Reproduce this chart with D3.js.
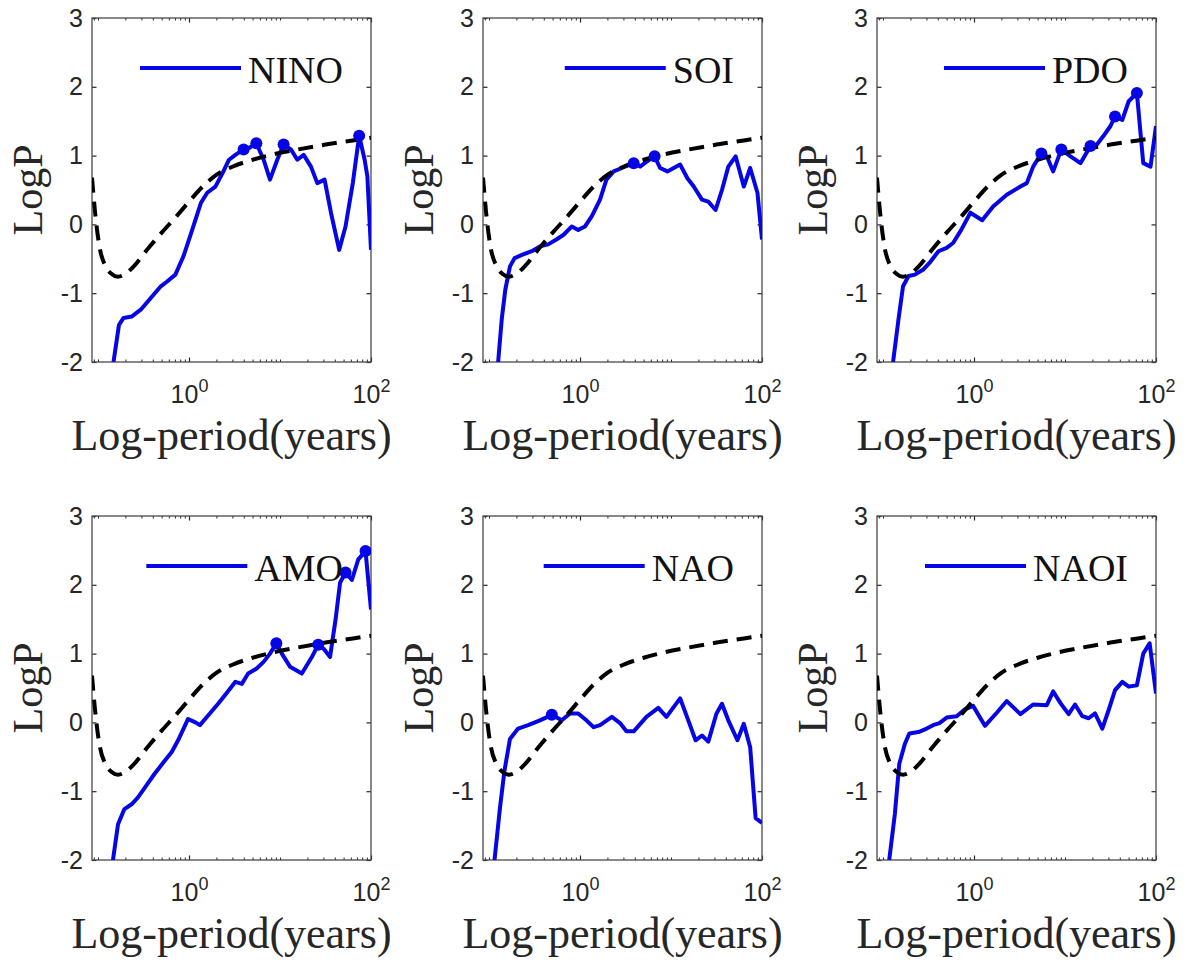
<!DOCTYPE html>
<html><head><meta charset="utf-8">
<script src="https://cdn.jsdelivr.net/npm/d3@7"></script>
<style>body{margin:0;background:#fff} svg{display:block}</style>
</head><body>
<svg id="chart" width="1187" height="965"></svg>
<script>
// ---------------- data ----------------
const panelNames = ["NINO", "SOI", "PDO", "AMO", "NAO", "NAOI"];

const ninoPeriod = [0.148,0.170,0.191,0.234,0.295,0.380,0.490,0.575,0.708,0.871,1.084,1.349,1.585,1.950,2.344,2.754,3.236,3.981,4.571,5.495,6.607,7.762,9.333,10.96,13.18,15.49,18.20,21.88,25.70,30.90,36.31,44.67,52.48,63.10,74.13,85.11,91.20,100];
const ninoLogP   = [-2.0,-1.46,-1.36,-1.34,-1.24,-1.07,-0.90,-0.83,-0.73,-0.46,-0.08,0.31,0.46,0.55,0.75,0.94,1.01,1.09,1.11,1.18,0.94,0.65,0.94,1.16,1.09,0.94,1.01,0.84,0.60,0.65,0.17,-0.37,-0.03,0.60,1.29,0.94,0.70,-0.37];
const ninoPeaks  = [17,19,23,34];

const soiPeriod = [0.126,0.138,0.151,0.170,0.191,0.234,0.295,0.363,0.447,0.550,0.661,0.813,0.955,1.135,1.349,1.660,1.950,2.344,2.884,3.890,4.571,5.495,6.607,7.586,9.120,10.72,12.59,15.14,17.78,21.88,25.70,30.90,36.31,42.66,51.29,63.10,74.13,89.13,100];
const soiLogP   = [-2.0,-1.38,-0.95,-0.61,-0.49,-0.44,-0.39,-0.32,-0.29,-0.22,-0.15,-0.03,-0.08,-0.03,0.12,0.36,0.65,0.77,0.82,0.89,0.84,0.92,0.99,0.82,0.77,0.82,0.87,0.67,0.55,0.36,0.33,0.21,0.50,0.84,0.99,0.55,0.82,0.46,-0.22];
const soiPeaks  = [19,22];

const pdoPeriod = [0.129,0.148,0.166,0.191,0.224,0.275,0.324,0.407,0.501,0.589,0.724,0.912,1.230,1.622,2.291,3.236,3.802,4.467,5.495,6.310,7.413,9.120,11.48,14.79,19.05,22.39,26.30,31.62,35.48,42.66,50.12,61.66,72.44,87.10,100];
const pdoLogP   = [-2.0,-1.38,-0.90,-0.75,-0.73,-0.66,-0.56,-0.39,-0.34,-0.27,-0.08,0.17,0.06,0.26,0.43,0.55,0.60,0.84,1.03,0.99,0.77,1.09,0.99,0.89,1.14,1.16,1.28,1.43,1.57,1.52,1.79,1.91,0.89,0.84,1.43];
const pdoPeaks  = [18,21,24,28,31];

const amoPeriod = [0.146,0.166,0.195,0.234,0.275,0.339,0.417,0.525,0.646,0.759,0.871,0.977,1.175,1.318,1.622,2.089,2.570,3.236,3.802,4.467,5.495,6.607,7.762,9.120,10.47,12.88,17.38,22.39,26.30,30.20,35.48,40.74,45.71,52.48,61.66,72.44,87.10,100];
const amoLogP   = [-2.0,-1.48,-1.26,-1.19,-1.09,-0.92,-0.75,-0.58,-0.43,-0.26,-0.09,0.05,0.00,-0.04,0.10,0.27,0.42,0.59,0.56,0.71,0.78,0.88,1.00,1.15,1.00,0.81,0.71,0.95,1.13,1.07,0.95,1.49,2.03,2.18,2.07,2.37,2.49,1.64];
const amoPeaks  = [23,28,33,36];

const naoPeriod = [0.115,0.132,0.148,0.170,0.209,0.269,0.363,0.490,0.631,0.776,0.955,1.175,1.413,1.660,2.239,2.754,3.236,3.890,5.370,7.244,8.913,12.59,15.49,18.62,21.88,25.70,31.62,36.31,42.66,53.70,63.10,74.13,85.11,100];
const naoLogP   = [-2.0,-1.24,-0.70,-0.24,-0.09,-0.04,0.03,0.11,0.03,0.13,0.13,0.03,-0.07,-0.04,0.08,-0.01,-0.13,-0.13,0.08,0.21,0.08,0.35,0.03,-0.26,-0.19,-0.28,0.13,0.27,0.03,-0.26,-0.02,-0.36,-1.39,-1.46];
const naoPeaks  = [7];

const naoiPeriod = [0.117,0.135,0.151,0.174,0.195,0.245,0.302,0.355,0.417,0.501,0.646,0.794,0.977,1.318,1.778,2.291,3.236,4.467,6.310,7.413,8.913,10.96,12.88,15.49,18.20,21.38,25.70,30.20,35.48,42.66,50.12,61.66,72.44,85.11,100];
const naoiLogP   = [-2.0,-1.33,-0.60,-0.31,-0.16,-0.14,-0.09,-0.04,-0.01,0.07,0.09,0.19,0.24,-0.05,0.14,0.31,0.12,0.26,0.25,0.45,0.28,0.12,0.26,0.09,0.06,0.13,-0.09,0.18,0.47,0.59,0.52,0.54,1.00,1.15,0.42];
const naoiPeaks  = [];

// dashed reference (background) spectrum, same in every panel
const refPeriod = [0.0859,0.0933,0.1047,0.1202,0.1413,0.166,0.1995,0.251,0.355,0.501,0.708,1,1.413,1.995,3.162,5.012,7.943,15.85,31.62,63.1,100];
const refLogP   = [0.68,0.15,-0.35,-0.60,-0.72,-0.76,-0.72,-0.60,-0.35,-0.12,0.10,0.33,0.55,0.72,0.85,0.94,1.01,1.09,1.16,1.22,1.26];

const periodDomain = [0.0859, 100];
const logPDomain = [-2, 3];
const yTicks = [-2, -1, 0, 1, 2, 3];
const xMajorTicks = [1, 100];
const xMajorExp = ["0", "2"];
const xMinorTicks = [0.09,0.1,0.2,0.3,0.4,0.5,0.6,0.7,0.8,0.9,2,3,4,5,6,7,8,9,10,20,30,40,50,60,70,80,90];
const xLabel = "Log-period(years)";
const yLabel = "LogP";

const seriesPeriods = [ninoPeriod, soiPeriod, pdoPeriod, amoPeriod, naoPeriod, naoiPeriod];
const seriesLogP = [ninoLogP, soiLogP, pdoLogP, amoLogP, naoLogP, naoiLogP];
const seriesPeaks = [ninoPeaks, soiPeaks, pdoPeaks, amoPeaks, naoPeaks, naoiPeaks];

// ---------------- layout ----------------
const colLeft = [92, 483, 877];
const rowTop = [18, 516];
const W = 279, H = 344;
const BLUE = "#0505e6";
const AX = "#262626";

const svg = d3.select("#chart");
const x = d3.scaleLog().domain(periodDomain).range([0, W]);
const y = d3.scaleLinear().domain(logPDomain).range([H, 0]);

const lineGen = d3.line().x(d => x(d[0])).y(d => y(d[1]));
const refLine = d3.line().x(d => x(d[0])).y(d => y(d[1])).curve(d3.curveMonotoneX);
const refData = refPeriod.map((p, i) => [p, refLogP[i]]);

panelNames.forEach((name, k) => {
  const col = k % 3, row = Math.floor(k / 3);
  const g = svg.append("g").attr("transform", `translate(${colLeft[col]},${rowTop[row]})`);

  const clipId = "clip" + k;
  g.append("clipPath").attr("id", clipId).append("rect").attr("width", W).attr("height", H);

  // y axis ticks left (with labels) and right
  const yl = g.append("g").call(d3.axisLeft(y).tickValues(yTicks).tickSize(-4.5).tickPadding(9).tickFormat(d3.format("d")));
  yl.select(".domain").remove();
  yl.selectAll("line").attr("stroke", AX).attr("stroke-width", 1.2);
  yl.selectAll("text").attr("font-family", "Liberation Sans, Arial, sans-serif").attr("font-size", 25).attr("fill", AX)
    .text(d => d < 0 ? "-" + Math.abs(d) : d);
  const yr = g.append("g").attr("transform", `translate(${W},0)`).call(d3.axisRight(y).tickValues(yTicks).tickSize(-4.5).tickFormat(""));
  yr.select(".domain").remove();
  yr.selectAll("line").attr("stroke", AX).attr("stroke-width", 1.2);

  // x minor ticks bottom/top
  [[d3.axisBottom, H], [d3.axisTop, 0]].forEach(([ax, ty]) => {
    const gm = g.append("g").attr("transform", `translate(0,${ty})`).call(ax(x).tickValues(xMinorTicks).tickSize(-2.5).tickFormat(""));
    gm.select(".domain").remove();
    gm.selectAll("line").attr("stroke", AX).attr("stroke-width", 1);
    const gM = g.append("g").attr("transform", `translate(0,${ty})`).call(ax(x).tickValues(xMajorTicks).tickSize(-4.5).tickFormat(""));
    gM.select(".domain").remove();
    gM.selectAll("line").attr("stroke", AX).attr("stroke-width", 1.2);
    if (ty === H) {
      gM.selectAll(".tick text").each(function(d, i) {
        const t = d3.select(this);
        t.text(null).attr("y", 41).attr("dy", null).attr("text-anchor", "middle")
          .attr("font-family", "Liberation Sans, Arial, sans-serif").attr("font-size", 25).attr("fill", AX);
        t.append("tspan").text("10");
        t.append("tspan").attr("dy", -11).attr("font-size", 18).text(xMajorExp[i]);
      });
    }
  });

  // box
  g.append("rect").attr("width", W).attr("height", H).attr("fill", "none").attr("stroke", "#4a4a4a").attr("stroke-width", 1.3);

  // series
  const data = seriesPeriods[k].map((p, i) => [p, seriesLogP[k][i]]);
  const plot = g.append("g").attr("clip-path", `url(#${clipId})`);
  plot.append("path").datum(data).attr("d", lineGen).attr("fill", "none").attr("stroke", BLUE)
    .attr("stroke-width", 4).attr("stroke-linejoin", "round");
  plot.append("path").datum(refData).attr("d", refLine).attr("fill", "none").attr("stroke", "#000")
    .attr("stroke-width", 4).attr("stroke-dasharray", "15,9");
  plot.selectAll("circle").data(seriesPeaks[k].map(i => data[i])).join("circle")
    .attr("cx", d => x(d[0])).attr("cy", d => y(d[1])).attr("r", 6).attr("fill", BLUE);

  // legend
  const lg = g.append("g");
  const lt = lg.append("text").attr("font-family", "Liberation Serif, Times New Roman, serif").attr("font-size", 38)
    .attr("fill", "#111").attr("y", 50 + 15).text(name);
  const tw = lt.node().getComputedTextLength();
  const tx = W - 28 - tw;
  lt.attr("x", tx);
  lg.append("line").attr("x1", tx - 108).attr("x2", tx - 7).attr("y1", 50).attr("y2", 50)
    .attr("stroke", BLUE).attr("stroke-width", 4);

  // axis labels
  g.append("text").attr("x", W / 2).attr("y", H + 88).attr("text-anchor", "middle")
    .attr("font-family", "Liberation Serif, Times New Roman, serif").attr("font-size", 44).attr("fill", AX).text(xLabel);
  g.append("text").attr("transform", `translate(-50,${H / 2}) rotate(-90)`).attr("text-anchor", "middle")
    .attr("font-family", "Liberation Serif, Times New Roman, serif").attr("font-size", 42).attr("fill", AX).text(yLabel);
});
</script>
</body></html>
